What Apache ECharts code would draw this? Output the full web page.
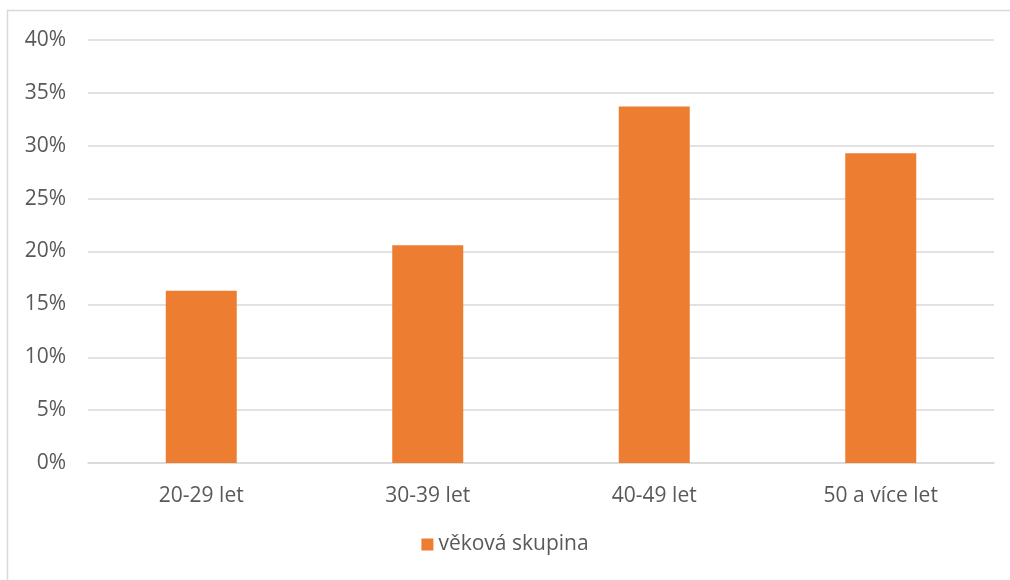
<!DOCTYPE html>
<html>
<head>
<meta charset="utf-8">
<script src="https://cdn.jsdelivr.net/npm/echarts@6/dist/echarts.min.js"></script>
<style>html,body{margin:0;padding:0;background:#fff;}#c{width:1010px;height:580px;}</style>
</head>
<body>
<div id="c"></div>
<script>
const categories = ['20-29 let', '30-39 let', '40-49 let', '50 a více let'];
const values = [16.3, 20.6, 33.7, 29.3];
const seriesName = 'věková skupina';

const chart = echarts.init(document.getElementById('c'), null, {renderer: 'canvas'});
const font = '"Open Sans", sans-serif';
chart.setOption({
  animation: false,
  backgroundColor: '#ffffff',
  graphic: [{
    type: 'rect', z: -10,
    shape: {x: 7.5, y: 10.5, width: 1100, height: 1000},
    style: {fill: 'none', stroke: '#d9d9d9', lineWidth: 1.5}
  }],
  grid: {left: 88, right: 16, top: 40, bottom: 117, containLabel: false},
  legend: {
    data: [seriesName], bottom: 20, left: 'center',
    icon: 'rect', itemWidth: 12, itemHeight: 12, itemGap: 6,
    textStyle: {fontFamily: font, fontSize: 21, color: '#595959'}
  },
  xAxis: {
    type: 'category', data: categories,
    axisLine: {lineStyle: {color: '#d9d9d9', width: 1.5}},
    axisTick: {show: false},
    axisLabel: {fontFamily: font, fontSize: 21, color: '#595959', margin: 23}
  },
  yAxis: {
    type: 'value', min: 0, max: 40, interval: 5,
    axisLine: {show: false}, axisTick: {show: false},
    splitLine: {lineStyle: {color: '#d9d9d9', width: 1.5}},
    axisLabel: {fontFamily: font, fontSize: 21, color: '#595959', margin: 22, formatter: '{value}%', padding: [2, 0, 0, 0]}
  },
  series: [{
    name: seriesName, type: 'bar', data: values,
    barWidth: 71,
    itemStyle: {color: '#ED7D31'}
  }]
});
</script>
</body>
</html>
